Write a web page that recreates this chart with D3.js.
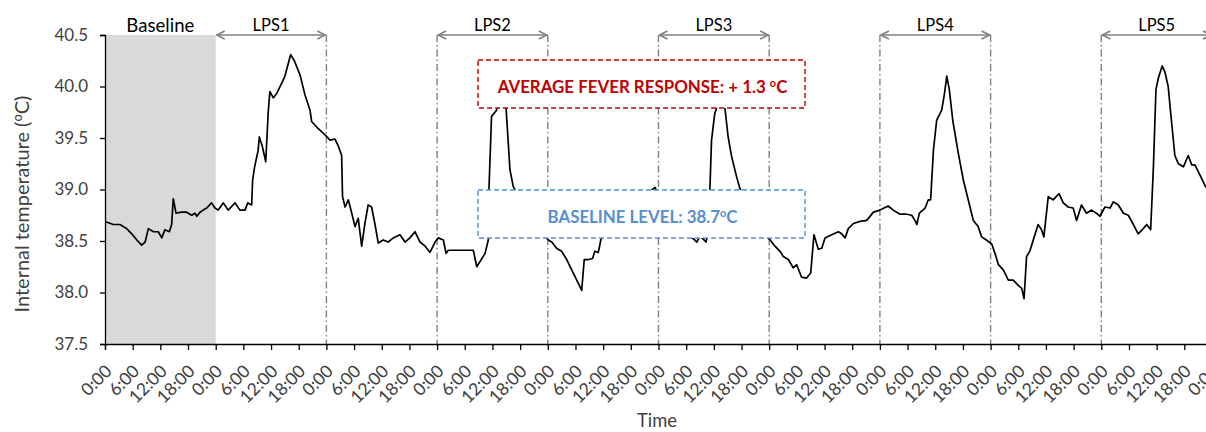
<!DOCTYPE html>
<html><head><meta charset="utf-8">
<script src="https://cdn.jsdelivr.net/npm/d3@7"></script>
<style>
body{margin:0;background:#fff;overflow:hidden;}
svg{display:block;font-family:Lato,'Open Sans',sans-serif;}
</style>
</head><body>
<svg id="chart" width="1206" height="432"></svg>
<script>
// ---------------- data ----------------
const timeHours = [0,1.8,3.25,4.7,5.8,6.9,7.95,8.7,9.4,10.5,11.55,12.3,13.0,13.95,14.45,14.8,15.4,16.6,17.7,18.8,19.5,19.9,20.6,21.3,22.05,23.1,23.85,24.55,25.65,26.7,28.2,29.25,30.35,30.95,31.8,32.0,32.4,33.2,33.45,34.1,34.85,35.4,35.75,36.5,37.2,38.5,39.0,40.25,41.05,42.3,43.35,44.45,44.8,46.25,47.7,48.8,49.85,50.6,51.3,51.5,52.05,52.75,53.5,54.2,54.9,55.65,56.35,57.05,57.8,58.5,59.25,60.3,61.4,62.5,63.95,65.05,66.1,67.2,68.3,69.4,70.45,71.55,72.25,73.35,73.95,74.45,79.85,80.6,81.3,82.4,83.1,83.25,83.8,84.9,85.4,86.3,86.95,87.8,88.5,90.0,92.1,94.3,96.1,96.85,97.9,99.0,100.1,101.5,102.6,103.35,103.9,104.8,105.7,106.2,106.95,107.5,109.5,112.7,116.0,119.25,121.4,124.7,128.3,129.0,129.65,130.3,130.8,131.15,131.5,132.2,132.6,133.1,134.0,134.4,135.1,135.85,136.95,137.65,139.8,142.0,144.2,145.25,146.35,147.05,148.15,149.2,149.95,151.0,152.1,153.0,153.7,154.65,155.4,156.1,157.55,159.0,159.7,160.45,161.15,162.25,163.7,165.15,166.6,168.0,169.8,170.9,172.35,173.8,174.9,175.6,176.0,176.55,177.8,178.5,179.0,179.6,180.3,181.4,182.0,182.5,183.05,183.8,185.0,186.1,187.15,188.25,189.3,190.05,191.1,192.25,192.95,193.7,194.75,195.85,196.9,198.0,198.75,199.25,199.8,200.5,201.25,202.3,203.05,203.55,204.5,205.55,206.85,207.75,208.8,209.9,210.65,211.7,212.8,213.9,214.95,215.7,216.8,217.9,218.6,219.7,220.8,221.85,222.95,224.0,225.1,225.85,226.7,227.3,227.85,228.35,229.2,229.8,230.5,231.05,231.95,232.7,233.8,234.85,235.6,236.3,237.4,238.45,240];
const tempC = [38.69,38.66,38.66,38.62,38.57,38.51,38.46,38.49,38.62,38.59,38.59,38.53,38.61,38.59,38.66,38.91,38.77,38.78,38.78,38.75,38.77,38.74,38.78,38.80,38.82,38.87,38.82,38.80,38.87,38.80,38.87,38.80,38.80,38.87,38.85,39.09,39.21,39.38,39.51,39.42,39.27,39.76,39.95,39.89,39.93,40.05,40.10,40.31,40.25,40.11,39.92,39.77,39.66,39.59,39.53,39.48,39.49,39.42,39.33,38.93,38.83,38.90,38.77,38.64,38.72,38.45,38.67,38.85,38.83,38.67,38.48,38.51,38.49,38.53,38.56,38.49,38.53,38.59,38.49,38.45,38.39,38.49,38.53,38.51,38.38,38.41,38.41,38.25,38.30,38.38,38.51,39.01,39.71,39.77,40.10,40.15,39.79,39.19,39.03,38.90,38.75,38.60,38.51,38.49,38.43,38.40,38.32,38.19,38.09,38.02,38.32,38.32,38.33,38.40,38.39,38.51,38.70,38.80,38.90,39.02,38.80,38.65,38.49,38.55,38.52,38.49,38.60,39.01,39.48,39.74,39.79,40.05,40.00,39.79,39.51,39.32,39.12,39.01,38.80,38.60,38.51,38.45,38.40,38.35,38.32,38.24,38.27,38.15,38.14,38.19,38.56,38.42,38.43,38.53,38.56,38.59,38.57,38.53,38.62,38.67,38.69,38.70,38.78,38.80,38.84,38.80,38.76,38.76,38.75,38.70,38.66,38.77,38.82,38.90,38.90,39.38,39.67,39.77,39.93,40.10,39.97,39.67,39.35,39.09,38.90,38.70,38.64,38.54,38.51,38.47,38.38,38.27,38.22,38.12,38.12,38.07,38.04,37.94,38.35,38.40,38.51,38.66,38.61,38.54,38.93,38.90,38.96,38.87,38.83,38.82,38.70,38.85,38.77,38.80,38.77,38.74,38.83,38.82,38.88,38.85,38.77,38.75,38.66,38.57,38.62,38.66,38.61,39.22,39.97,40.08,40.20,40.14,40.00,39.74,39.33,39.25,39.22,39.33,39.24,39.24,39.14,39.04,38.95];
const xTickLabels = ["0:00","6:00","12:00","18:00"];
const yTickValues = [37.5,38.0,38.5,39.0,39.5,40.0,40.5];
const periodLabels = ["LPS1","LPS2","LPS3","LPS4","LPS5"];
const periodStartDays = [1,3,5,7,9];
const dividerDays = [2,3,4,5,6,7,8,9];
const baselineDays = [0,1];
const baselineLevel = 38.73;
const feverLevel = 40.0;
const feverText = "AVERAGE FEVER RESPONSE: + 1.3 ";
const baselineText = "BASELINE LEVEL: 38.7";
const totalDays = 10;

// ---------------- layout ----------------
const svg = d3.select("#chart");
const L = 105, R = 1212, T = 35, B = 344;
const x = d3.scaleLinear().domain([0, totalDays*24]).range([L, R]);
const y = d3.scaleLinear().domain([37.5, 40.5]).range([B, T]);
const gray = "#808080", txt = "#404040";

const defs = svg.append("defs");
const f = defs.append("filter").attr("id","shadow").attr("x","-5%").attr("y","-200%").attr("width","110%").attr("height","500%");
f.append("feDropShadow").attr("dx",0).attr("dy",3).attr("stdDeviation",1.6).attr("flood-color","#000").attr("flood-opacity",0.35);
defs.append("marker").attr("id","arr").attr("viewBox","0 0 10 10").attr("refX",9).attr("refY",5)
  .attr("markerWidth",10).attr("markerHeight",10).attr("markerUnits","userSpaceOnUse").attr("orient","auto-start-reverse")
  .append("path").attr("d","M1,1 L9,5 L1,9").attr("fill","none").attr("stroke",gray).attr("stroke-width",1.6);

function fit(sel, target){
  const w = sel.node().getComputedTextLength();
  sel.attr("font-size", parseFloat(sel.attr("font-size")) * target / w);
}

// baseline shaded region
svg.append("rect").attr("x", x(baselineDays[0]*24)).attr("y", T)
  .attr("width", x(baselineDays[1]*24) - x(baselineDays[0]*24)).attr("height", B - T).attr("fill","#d9d9d9");

// dividers
svg.append("g").selectAll("line").data(dividerDays).join("line")
  .attr("x1", d => x(d*24)).attr("x2", d => x(d*24)).attr("y1", T).attr("y2", B)
  .attr("stroke", gray).attr("stroke-width",1.4).attr("stroke-dasharray","7,3,1.5,3");

// reference lines
svg.append("line").attr("x1", L).attr("x2", R).attr("y1", y(feverLevel)).attr("y2", y(feverLevel))
  .attr("stroke","#c00000").attr("stroke-width",4.5).attr("stroke-dasharray","12,6").attr("filter","url(#shadow)");
svg.append("line").attr("x1", L).attr("x2", R).attr("y1", y(baselineLevel)).attr("y2", y(baselineLevel))
  .attr("stroke","#4bacc6").attr("stroke-width",4.5).attr("stroke-dasharray","12,6").attr("filter","url(#shadow)");

// data line
const pts = timeHours.map((h,i) => [h, tempC[i]]);
svg.append("path").datum(pts)
  .attr("d", d3.line().x(d => x(d[0])).y(d => y(d[1])))
  .attr("fill","none").attr("stroke","#000").attr("stroke-width",1.7).attr("stroke-linejoin","round");

// axes
const yAxis = d3.axisLeft(y).tickValues(yTickValues).tickFormat(d3.format(".1f")).tickSize(5).tickPadding(12);
const gy = svg.append("g").attr("transform",`translate(${L},0)`).call(yAxis);
gy.select(".domain").attr("stroke","#000").attr("stroke-width",1.3);
gy.selectAll(".tick line").attr("stroke","#000").attr("stroke-width",1.3);
gy.selectAll(".tick text").attr("font-size",17).attr("fill",txt).attr("font-family","Lato,'Open Sans',sans-serif");

const xTicks = d3.range(0, totalDays*24 + 1, 6);
const xAxis = d3.axisBottom(x).tickValues(xTicks).tickSize(6).tickFormat(d => xTickLabels[(d/6)%4]);
const gx = svg.append("g").attr("transform",`translate(0,${B})`).call(xAxis);
gx.select(".domain").attr("stroke","#000").attr("stroke-width",1.3);
gx.selectAll(".tick line").attr("stroke","#000").attr("stroke-width",1.3);
gx.selectAll(".tick text").attr("font-size",17.5).attr("fill",txt).attr("font-family","Lato,'Open Sans',sans-serif")
  .attr("text-anchor","end").attr("y",0).attr("dy","0.35em")
  .attr("transform","translate(3,24) rotate(-45)");

// period arrows and labels
periodStartDays.forEach((d,i) => {
  svg.append("line").attr("x1", x(d*24)+1).attr("x2", x((d+1)*24)-1).attr("y1", T).attr("y2", T)
    .attr("stroke", gray).attr("stroke-width",1.6)
    .attr("marker-start","url(#arr)").attr("marker-end","url(#arr)");
  const t = svg.append("text").attr("x", (x(d*24)+x((d+1)*24))/2).attr("y", 31)
    .attr("text-anchor","middle").attr("font-size",17).attr("fill","#000").text(periodLabels[i]);
  fit(t, 37);
});
const bt = svg.append("text").attr("x", (x(baselineDays[0]*24)+x(baselineDays[1]*24))/2).attr("y", 32)
  .attr("text-anchor","middle").attr("font-size",17).attr("fill","#000").text("Baseline");
fit(bt, 68);

// annotation boxes
const bx0 = 478, bx1 = 805;
svg.append("rect").attr("x",bx0).attr("y",60).attr("width",bx1-bx0).attr("height",48)
  .attr("fill","#fff").attr("stroke","#c00000").attr("stroke-width",1.4).attr("stroke-dasharray","5,3");
const ft = svg.append("text").attr("x",(bx0+bx1)/2+1).attr("y",93).attr("text-anchor","middle")
  .attr("font-size",19).attr("font-weight","bold").attr("fill","#c00000");
ft.append("tspan").text(feverText);
ft.append("tspan").attr("font-size","0.65em").attr("dy","-0.55em").text("o");
ft.append("tspan").attr("dy","0.36em").text("C");
fit(ft, 290);

svg.append("rect").attr("x",bx0).attr("y",190).attr("width",bx1-bx0).attr("height",48)
  .attr("fill","#fff").attr("stroke","#558ed5").attr("stroke-width",1.4).attr("stroke-dasharray","5,3");
const blt = svg.append("text").attr("x",(bx0+bx1)/2+1).attr("y",223).attr("text-anchor","middle")
  .attr("font-size",19).attr("font-weight","bold").attr("fill","#558ed5");
blt.append("tspan").text(baselineText);
blt.append("tspan").attr("font-size","0.65em").attr("dy","-0.55em").text("o");
blt.append("tspan").attr("dy","0.36em").text("C");
fit(blt, 190);

// axis titles
const yt = svg.append("text").attr("transform","translate(29,204) rotate(-90)").attr("text-anchor","middle")
  .attr("font-size",18).attr("fill",txt);
yt.append("tspan").text("Internal temperature (");
yt.append("tspan").attr("font-size","0.65em").attr("dy","-0.55em").text("o");
yt.append("tspan").attr("dy","0.36em").text("C)");
fit(yt, 217);
const xt = svg.append("text").attr("x",657).attr("y",427).attr("text-anchor","middle")
  .attr("font-size",18).attr("fill",txt).text("Time");
fit(xt, 40);
</script>
</body></html>
